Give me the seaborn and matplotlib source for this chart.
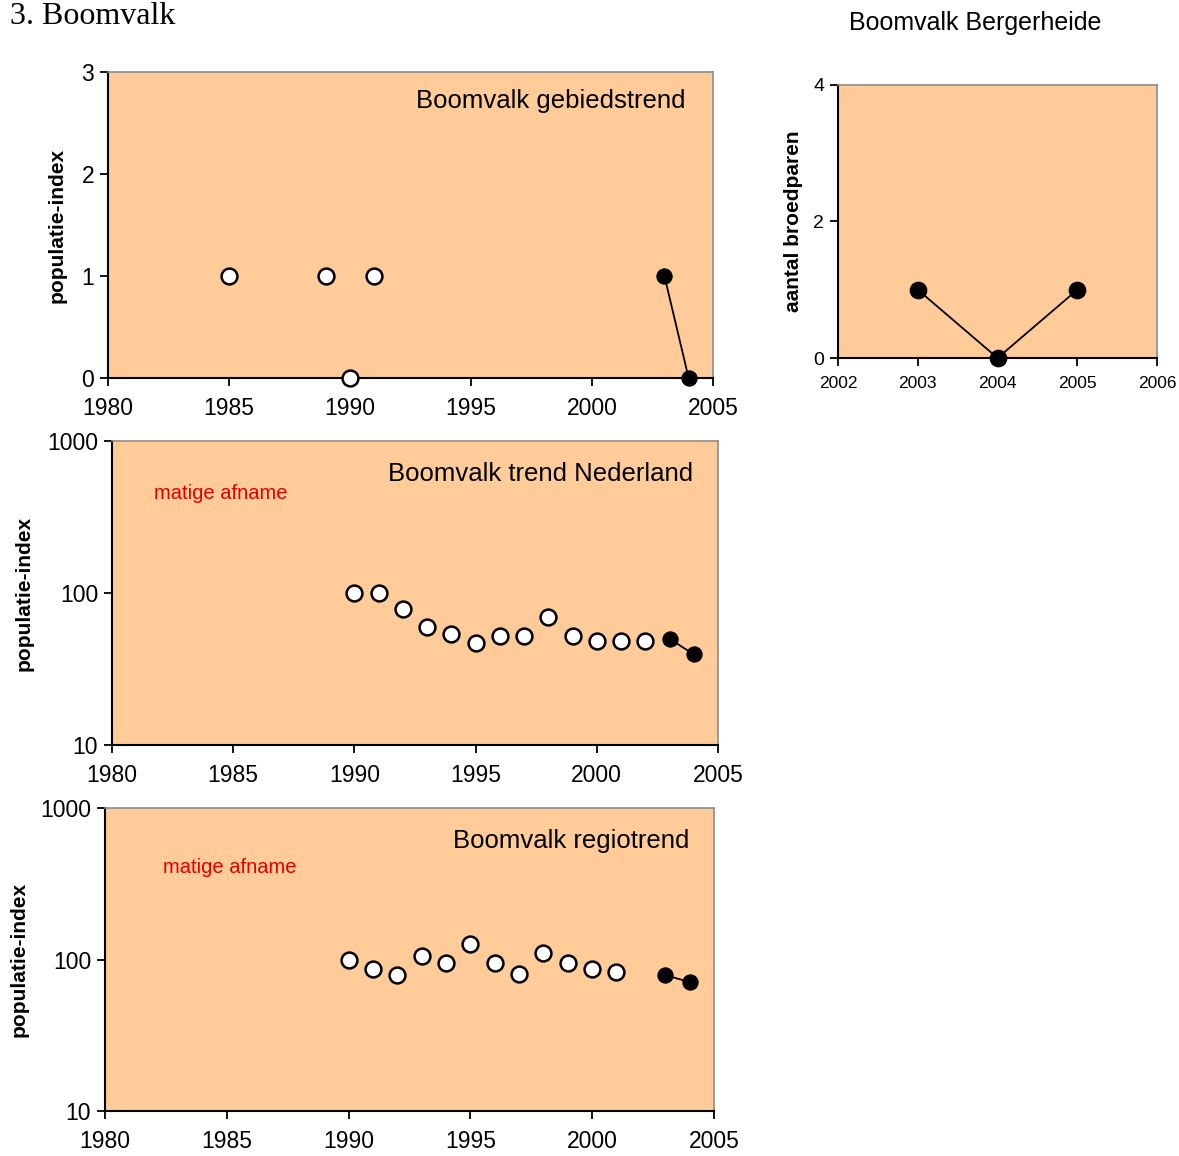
import matplotlib
matplotlib.use('Agg')
import matplotlib.pyplot as plt
import seaborn as sns

# gebiedstrend (Bergerheide index)
gebied_years = [1985, 1989, 1990, 1991]
gebied_vals = [1, 1, 0, 1]
gebied_recent_years = [2003, 2004]
gebied_recent_vals = [1, 0]

# landelijke trend
nl_years = [1990, 1991, 1992, 1993, 1994, 1995, 1996, 1997, 1998, 1999, 2000, 2001, 2002]
nl_vals = [100, 100, 78, 60, 54, 47, 52, 52, 70, 52, 48, 48, 48]
nl_recent_years = [2003, 2004]
nl_recent_vals = [50, 39.5]

# regiotrend
regio_years = [1990, 1991, 1992, 1993, 1994, 1995, 1996, 1997, 1998, 1999, 2000, 2001]
regio_vals = [100, 86, 79, 105, 95, 126, 95, 80, 111, 95, 86, 83]
regio_recent_years = [2003, 2004]
regio_recent_vals = [79, 71]

# aantal broedparen
berg_years = [2003, 2004, 2005]
berg_vals = [1, 0, 1]

sns.set_style('ticks')
plt.rcParams['font.family'] = ['Liberation Sans', 'DejaVu Sans']
plt.rcParams['text.color'] = 'black'
plt.rcParams['axes.labelcolor'] = 'black'

bg = '#FFCC99'
fig = plt.figure(figsize=(11.79, 11.56), dpi=100)


def style_axes(ax, fs, xpad=8):
    ax.set_facecolor(bg)
    for s in ['top', 'right']:
        ax.spines[s].set_visible(True)
        ax.spines[s].set_color('#8c8c8c')
        ax.spines[s].set_linewidth(1.2)
    for s in ['left', 'bottom']:
        ax.spines[s].set_color('black')
        ax.spines[s].set_linewidth(1.5)
    ax.tick_params(direction='out', length=6, width=1.3, labelsize=fs, colors='black')
    ax.tick_params(axis='x', pad=xpad)
    ax.tick_params(axis='y', pad=4)
    ax.tick_params(which='minor', length=0)


def open_points(ax, x, y, size=130):
    sns.scatterplot(x=x, y=y, ax=ax, s=size, color='white', edgecolor='black',
                    linewidth=1.8, zorder=5, clip_on=False)


def filled_line(ax, x, y, ms=11):
    sns.lineplot(x=x, y=y, ax=ax, color='black', linewidth=1.3, marker='o',
                 markersize=ms, markeredgecolor='black', zorder=6, clip_on=False)


# 1. gebiedstrend
ax1 = fig.add_axes([0.0916, 0.673, 0.513, 0.2647])
style_axes(ax1, 16.5)
open_points(ax1, gebied_years, gebied_vals)
filled_line(ax1, gebied_recent_years, gebied_recent_vals)
ax1.set_xlim(1980, 2005)
ax1.set_ylim(0, 3)
ax1.set_xticks(range(1980, 2006, 5))
ax1.set_yticks([0, 1, 2, 3])
ax1.set_xlabel('')
ax1.set_ylabel('populatie-index', fontsize=15, fontweight='bold')
ax1.yaxis.set_label_coords(-0.068, 0.5)
ax1.text(0.955, 0.905, 'Boomvalk gebiedstrend', transform=ax1.transAxes,
         ha='right', va='center', fontsize=18.5)

# 2. Bergerheide broedparen
ax2 = fig.add_axes([0.7108, 0.6903, 0.2706, 0.2362])
style_axes(ax2, 12.5, xpad=7)
filled_line(ax2, berg_years, berg_vals, ms=12)
ax2.set_xlim(2002, 2006)
ax2.set_ylim(0, 4)
ax2.set_xticks(range(2002, 2007))
ax2.set_yticks([0, 2, 4])
ax2.tick_params(axis='y', labelsize=14)
ax2.set_xlabel('')
ax2.set_ylabel('aantal broedparen', fontsize=15, fontweight='bold')
ax2.yaxis.set_label_coords(-0.11, 0.5)
fig.text(0.827, 0.980, 'Boomvalk Bergerheide', ha='center', va='center', fontsize=18)

# 3. trend Nederland
ax3 = fig.add_axes([0.095, 0.3555, 0.514, 0.263])
style_axes(ax3, 16.5)
ax3.set_yscale('log')
open_points(ax3, nl_years, nl_vals)
filled_line(ax3, nl_recent_years, nl_recent_vals)
ax3.set_xlim(1980, 2005)
ax3.set_ylim(10, 1000)
ax3.set_xticks(range(1980, 2006, 5))
ax3.set_yticks([10, 100, 1000])
ax3.set_yticklabels(['10', '100', '1000'])
ax3.set_xlabel('')
ax3.set_ylabel('populatie-index', fontsize=15, fontweight='bold')
ax3.yaxis.set_label_coords(-0.130, 0.5)
ax3.text(0.959, 0.891, 'Boomvalk trend Nederland', transform=ax3.transAxes,
         ha='right', va='center', fontsize=18.5)
ax3.text(0.069, 0.829, 'matige afname', transform=ax3.transAxes,
         ha='left', va='center', fontsize=14.5, color='#e00000')

# 4. regiotrend
ax4 = fig.add_axes([0.089, 0.0389, 0.5165, 0.2621])
style_axes(ax4, 16.5)
ax4.set_yscale('log')
open_points(ax4, regio_years, regio_vals)
filled_line(ax4, regio_recent_years, regio_recent_vals)
ax4.set_xlim(1980, 2005)
ax4.set_ylim(10, 1000)
ax4.set_xticks(range(1980, 2006, 5))
ax4.set_yticks([10, 100, 1000])
ax4.set_yticklabels(['10', '100', '1000'])
ax4.set_xlabel('')
ax4.set_ylabel('populatie-index', fontsize=15, fontweight='bold')
ax4.yaxis.set_label_coords(-0.126, 0.5)
ax4.text(0.96, 0.891, 'Boomvalk regiotrend', transform=ax4.transAxes,
         ha='right', va='center', fontsize=18.5)
ax4.text(0.095, 0.805, 'matige afname', transform=ax4.transAxes,
         ha='left', va='center', fontsize=14.5, color='#e00000')

fig.text(0.0085, 0.998, '3. Boomvalk', ha='left', va='top', fontsize=23,
         family=['Liberation Serif', 'DejaVu Serif'])

fig.savefig('out.png', dpi=100, facecolor='white')
